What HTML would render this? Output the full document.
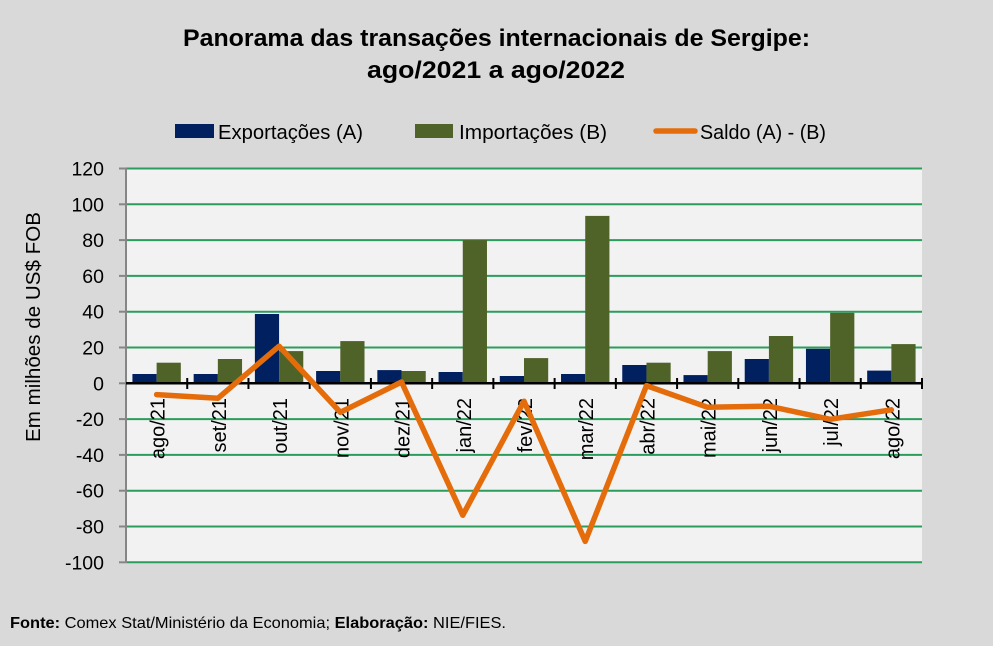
<!DOCTYPE html>
<html><head><meta charset="utf-8"><style>
html,body{margin:0;padding:0;background:#d9d9d9;}
svg{display:block;}
text{font-family:"Liberation Sans",sans-serif;fill:#000;}
</style></head><body>
<svg width="993" height="646" viewBox="0 0 993 646" xmlns="http://www.w3.org/2000/svg">
<rect x="0" y="0" width="993" height="646" fill="#d9d9d9"/>
<!-- Title -->
<text x="496.5" y="46" text-anchor="middle" font-size="24" font-weight="bold" textLength="627" lengthAdjust="spacingAndGlyphs">Panorama  das transações internacionais de Sergipe:</text>
<text x="496" y="78" text-anchor="middle" font-size="24" font-weight="bold" textLength="258" lengthAdjust="spacingAndGlyphs">ago/2021 a ago/2022</text>
<!-- Legend -->
<rect x="175" y="124" width="39" height="14" fill="#002060"/>
<text x="218" y="139" font-size="20" textLength="145" lengthAdjust="spacingAndGlyphs">Exportações (A)</text>
<rect x="415" y="124" width="38" height="14" fill="#4f6228"/>
<text x="459" y="139" font-size="20" textLength="148" lengthAdjust="spacingAndGlyphs">Importações (B)</text>
<line x1="656" y1="131" x2="695" y2="131" stroke="#e46c0a" stroke-width="5.5" stroke-linecap="round"/>
<text x="700" y="139" font-size="20" textLength="126" lengthAdjust="spacingAndGlyphs">Saldo (A) - (B)</text>
<!-- Plot area -->
<rect x="126" y="168.5" width="796" height="394.5" fill="#f2f2f2"/>
<g stroke="#2a9d5c" stroke-width="2">
<line x1="126" y1="168.5" x2="922" y2="168.5"/>
<line x1="126" y1="204.3" x2="922" y2="204.3"/>
<line x1="126" y1="240.1" x2="922" y2="240.1"/>
<line x1="126" y1="275.9" x2="922" y2="275.9"/>
<line x1="126" y1="311.7" x2="922" y2="311.7"/>
<line x1="126" y1="347.5" x2="922" y2="347.5"/>
<line x1="126" y1="419.1" x2="922" y2="419.1"/>
<line x1="126" y1="454.9" x2="922" y2="454.9"/>
<line x1="126" y1="490.7" x2="922" y2="490.7"/>
<line x1="126" y1="526.5" x2="922" y2="526.5"/>
<line x1="126" y1="562.3" x2="922" y2="562.3"/>
</g>
<!-- Y axis -->
<g stroke="#868686" stroke-width="2">
<line x1="126" y1="168" x2="126" y2="563"/>
<line x1="119" y1="168.5" x2="126" y2="168.5"/>
<line x1="119" y1="204.3" x2="126" y2="204.3"/>
<line x1="119" y1="240.1" x2="126" y2="240.1"/>
<line x1="119" y1="275.9" x2="126" y2="275.9"/>
<line x1="119" y1="311.7" x2="126" y2="311.7"/>
<line x1="119" y1="347.5" x2="126" y2="347.5"/>
<line x1="119" y1="383.3" x2="126" y2="383.3"/>
<line x1="119" y1="419.1" x2="126" y2="419.1"/>
<line x1="119" y1="454.9" x2="126" y2="454.9"/>
<line x1="119" y1="490.7" x2="126" y2="490.7"/>
<line x1="119" y1="526.5" x2="126" y2="526.5"/>
<line x1="119" y1="562.3" x2="126" y2="562.3"/>
</g>
<g font-size="19.5" text-anchor="end">
<text x="104" y="175.5">120</text>
<text x="104" y="211.3">100</text>
<text x="104" y="247.1">80</text>
<text x="104" y="282.9">60</text>
<text x="104" y="318.7">40</text>
<text x="104" y="354.5">20</text>
<text x="104" y="390.3">0</text>
<text x="104" y="426.1">-20</text>
<text x="104" y="461.9">-40</text>
<text x="104" y="497.7">-60</text>
<text x="104" y="533.5">-80</text>
<text x="104" y="569.3">-100</text>
</g>
<text transform="translate(40,327) rotate(-90)" text-anchor="middle" font-size="20" textLength="230" lengthAdjust="spacingAndGlyphs">Em milhões de US$ FOB</text>
<!-- Bars: exports -->
<g fill="#002060">
<rect x="132.42" y="374.0" width="24.2" height="9.3"/>
<rect x="193.65" y="374.0" width="24.2" height="9.3"/>
<rect x="254.88" y="314.0" width="24.2" height="69.3"/>
<rect x="316.11" y="371.0" width="24.2" height="12.3"/>
<rect x="377.34" y="370.1" width="24.2" height="13.2"/>
<rect x="438.57" y="372.0" width="24.2" height="11.3"/>
<rect x="499.80" y="376.0" width="24.2" height="7.3"/>
<rect x="561.03" y="374.0" width="24.2" height="9.3"/>
<rect x="622.26" y="365.0" width="24.2" height="18.3"/>
<rect x="683.49" y="375.1" width="24.2" height="8.2"/>
<rect x="744.72" y="359.0" width="24.2" height="24.3"/>
<rect x="805.95" y="348.8" width="24.2" height="34.5"/>
<rect x="867.18" y="370.6" width="24.2" height="12.7"/>
</g>
<!-- Bars: imports -->
<g fill="#4f6228">
<rect x="156.62" y="362.7" width="24.2" height="20.6"/>
<rect x="217.85" y="359.0" width="24.2" height="24.3"/>
<rect x="279.08" y="351.1" width="24.2" height="32.2"/>
<rect x="340.31" y="341.1" width="24.2" height="42.2"/>
<rect x="401.54" y="371.0" width="24.2" height="12.3"/>
<rect x="462.77" y="240.1" width="24.2" height="143.2"/>
<rect x="524.00" y="358.1" width="24.2" height="25.2"/>
<rect x="585.23" y="215.9" width="24.2" height="167.4"/>
<rect x="646.46" y="362.7" width="24.2" height="20.6"/>
<rect x="707.69" y="351.1" width="24.2" height="32.2"/>
<rect x="768.92" y="336.0" width="24.2" height="47.3"/>
<rect x="830.15" y="312.8" width="24.2" height="70.5"/>
<rect x="891.38" y="344.1" width="24.2" height="39.2"/>
</g>
<!-- Zero axis -->
<g stroke="#000" stroke-width="2.5">
<line x1="126" y1="383.3" x2="922" y2="383.3"/>
</g>
<g stroke="#000" stroke-width="2">
<line x1="187.23" y1="378" x2="187.23" y2="389"/>
<line x1="248.46" y1="378" x2="248.46" y2="389"/>
<line x1="309.69" y1="378" x2="309.69" y2="389"/>
<line x1="370.92" y1="378" x2="370.92" y2="389"/>
<line x1="432.15" y1="378" x2="432.15" y2="389"/>
<line x1="493.38" y1="378" x2="493.38" y2="389"/>
<line x1="554.62" y1="378" x2="554.62" y2="389"/>
<line x1="615.85" y1="378" x2="615.85" y2="389"/>
<line x1="677.08" y1="378" x2="677.08" y2="389"/>
<line x1="738.31" y1="378" x2="738.31" y2="389"/>
<line x1="799.54" y1="378" x2="799.54" y2="389"/>
<line x1="860.77" y1="378" x2="860.77" y2="389"/>
<line x1="922" y1="378" x2="922" y2="389"/>
</g>
<!-- X labels -->
<g font-size="20" text-anchor="end">
<text transform="translate(164.6,398) rotate(-90)">ago/21</text>
<text transform="translate(225.8,398) rotate(-90)">set/21</text>
<text transform="translate(287.1,398) rotate(-90)">out/21</text>
<text transform="translate(348.3,398) rotate(-90)">nov/21</text>
<text transform="translate(409.5,398) rotate(-90)">dez/21</text>
<text transform="translate(470.8,398) rotate(-90)">jan/22</text>
<text transform="translate(532.0,398) rotate(-90)">fev/22</text>
<text transform="translate(593.2,398) rotate(-90)">mar/22</text>
<text transform="translate(654.5,398) rotate(-90)">abr/22</text>
<text transform="translate(715.7,398) rotate(-90)">mai/22</text>
<text transform="translate(776.9,398) rotate(-90)">jun/22</text>
<text transform="translate(838.2,398) rotate(-90)">jul/22</text>
<text transform="translate(899.4,398) rotate(-90)">ago/22</text>
</g>
<!-- Saldo line -->
<polyline fill="none" stroke="#e46c0a" stroke-width="5.5" stroke-linejoin="round" stroke-linecap="round"
points="156.62,394.6 217.85,398.3 279.08,346.2 340.31,412.3 401.54,382.0 462.77,515.2 524.00,401.2 585.23,541.4 646.46,385.6 707.69,407.3 768.92,406.2 830.15,419.3 891.38,409.8"/>
<!-- Footer -->
<text x="10" y="628" font-size="16" textLength="496" lengthAdjust="spacingAndGlyphs"><tspan font-weight="bold">Fonte:</tspan> Comex Stat/Ministério da Economia; <tspan font-weight="bold">Elaboração:</tspan> NIE/FIES.</text>
</svg>
</body></html>
